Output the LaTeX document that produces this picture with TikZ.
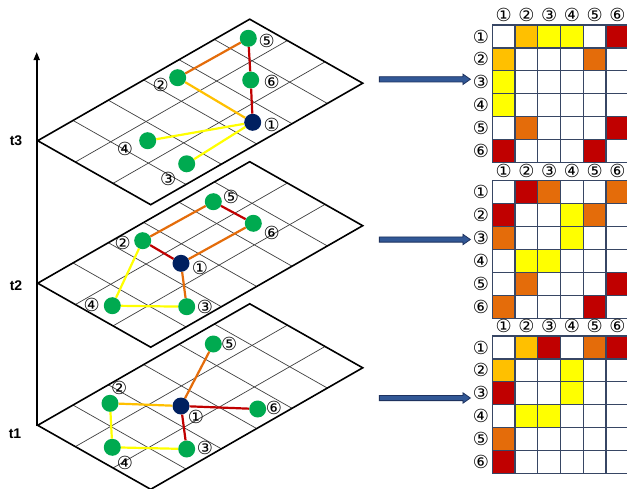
\documentclass[tikz,border=0pt]{standalone}
\usepackage{fontspec}
\setmainfont{Liberation Sans}
\newfontfamily\dejavu{DejaVu Sans}
\usetikzlibrary{arrows.meta,shapes.arrows}
\definecolor{cred}{RGB}{192,0,0}
\definecolor{corange}{RGB}{228,108,10}
\definecolor{camber}{RGB}{255,192,0}
\definecolor{cyellow}{RGB}{255,255,0}
\definecolor{cgreen}{RGB}{0,170,80}
\definecolor{cnavy}{RGB}{0,32,96}
\definecolor{cmatgrid}{RGB}{55,70,100}
\definecolor{carrowfill}{RGB}{50,88,150}
\definecolor{carrowline}{RGB}{30,50,95}
\newcommand\layerplane[1]{%
  \begin{scope}[shift={(37.7,#1)}]
    \fill[white] (0,0) -- (212,-121.5) -- (325,-57.5) -- (113,64) -- cycle;
    \foreach \i in {1,...,5} \draw[gridln] ({\i*212/6},{-\i*121.5/6}) -- ++(113,64);
    \foreach \j in {1,2} \draw[gridln] ({\j*113/3},{\j*64/3}) -- ++(212,-121.5);
    \draw[planeborder] (0,0) -- (212,-121.5) -- (325,-57.5) -- (113,64) -- cycle;
  \end{scope}}
\newcommand\adjmat[3]{%
  \foreach \r/\c/\col in {#3}
    \fill[\col] ({492.3+(\c-1)*22.75},{#2+(\r-1)*22.9}) rectangle ++(22.75,22.9);
  \foreach \k in {0,...,6} {
    \draw[matgrid] ({492.3+\k*22.75},#2) -- ++(0,137.4);
    \draw[matgrid] (492.3,{#2+\k*22.9}) -- ++(136.5,0);
  }
  \foreach \k/\s in {1/①,2/②,3/③,4/④,5/⑤,6/⑥} {
    \node[lab] (#1c\k) at ({492.3+(\k-0.5)*22.75},{#2-10}) {\s};
    \node[lab] (#1r\k) at (481,{#2+(\k-0.5)*22.9}) {\s};
  }}
\begin{document}
\begin{tikzpicture}[x=1pt,y=-1pt,
  gridln/.style={draw=black!75, line width=0.7},
  planeborder/.style={draw=black, line width=1.6, line join=miter},
  matgrid/.style={draw=cmatgrid, line width=1.2},
  gnode/.style={circle, fill=cgreen, minimum size=17, inner sep=0},
  bnode/.style={circle, fill=cnavy, minimum size=17, inner sep=0},
  lab/.style={font=\dejavu\fontsize{18}{18}\selectfont, inner sep=0},
  tlab/.style={font=\bfseries\fontsize{14}{14}\selectfont, inner sep=0},
  ered/.style={draw=cred, line width=2.2},
  eorange/.style={draw=corange, line width=2.2},
  eamber/.style={draw=camber, line width=2.2},
  eyellow/.style={draw=cyellow, line width=2.2},
  blockarrow/.style={single arrow, draw=carrowline, fill=carrowfill, line width=0.8,
    minimum height=91, inner sep=2.2, single arrow head extend=2.6, single arrow tip angle=70}]
\clip (0,0) rectangle (627,488);
\fill[white] (0,0) rectangle (627,488);

% time axis
\coordinate (axb) at (36.7,426);
\coordinate (axt) at (36.7,52);
\draw[line width=1.8, -{Triangle[length=8,width=6]}] (axb) -- (axt);
\node[tlab] (lt3) at (16,141) {t3};
\node[tlab] (lt2) at (16,286) {t2};
\node[tlab] (lt1) at (15,434) {t1};

% planes
\layerplane{140.7}
\layerplane{283.2}
\layerplane{425.3}

% ---- t3 ----
\node[gnode] (c5) at (248.3,38.3) {};
\node[gnode] (c2) at (177.7,77.7) {};
\node[gnode] (c6) at (250.7,80) {};
\node[bnode] (c1) at (252.7,122.3) {};
\node[gnode] (c4) at (147.7,140.7) {};
\node[gnode] (c3) at (186.7,163.8) {};
\draw[eorange] (c2) -- (c5);
\draw[eamber] (c2) -- (c1);
\draw[ered] (c5) -- (c6);
\draw[ered] (c6) -- (c1);
\draw[eyellow] (c1) -- (c4);
\draw[eyellow] (c1) -- (c3);
\node[lab] (lc5) at (266.7,40.7) {⑤};
\node[lab] (lc2) at (160.7,85) {②};
\node[lab] (lc6) at (271.7,82.3) {⑥};
\node[lab] (lc1) at (271.7,125) {①};
\node[lab] (lc4) at (125,149) {④};
\node[lab] (lc3) at (168.3,179) {③};

% ---- t2 ----
\node[gnode] (b5) at (213.3,201.7) {};
\node[gnode] (b6) at (253.3,223.3) {};
\node[gnode] (b2) at (142.7,240.7) {};
\node[bnode] (b1) at (181,263.3) {};
\node[gnode] (b4) at (112.3,305.7) {};
\node[gnode] (b3) at (186.7,306.7) {};
\draw[eorange] (b2) -- (b5);
\draw[ered] (b5) -- (b6);
\draw[eorange] (b6) -- (b1);
\draw[ered] (b1) -- (b2);
\draw[eyellow] (b2) -- (b4);
\draw[eyellow] (b4) -- (b3);
\draw[eorange] (b3) -- (b1);
\node[lab] (lb5) at (231,197.3) {⑤};
\node[lab] (lb6) at (271.7,232.7) {⑥};
\node[lab] (lb2) at (122.7,243.3) {②};
\node[lab] (lb1) at (200,268.3) {①};
\node[lab] (lb4) at (91.7,305) {④};
\node[lab] (lb3) at (205,306.7) {③};

% ---- t1 ----
\node[gnode] (a5) at (213.3,344) {};
\node[gnode] (a2) at (110,403.3) {};
\node[bnode] (a1) at (181,406) {};
\node[gnode] (a6) at (257.7,409) {};
\node[gnode] (a4) at (112.3,447.3) {};
\node[gnode] (a3) at (186.7,449) {};
\draw[eorange] (a1) -- (a5);
\draw[eamber] (a1) -- (a2);
\draw[ered] (a1) -- (a6);
\draw[ered] (a1) -- (a3);
\draw[eyellow] (a2) -- (a4);
\draw[eyellow] (a4) -- (a3);
\node[lab] (la5) at (229.3,344) {⑤};
\node[lab] (la2) at (119.3,388.3) {②};
\node[lab] (la1) at (196,416.7) {①};
\node[lab] (la6) at (274,408.3) {⑥};
\node[lab] (la4) at (125,463.3) {④};
\node[lab] (la3) at (205,448.3) {③};

% block arrows
\node[blockarrow] (arr3) at (423,79.3) {};
\node[blockarrow] (arr2) at (423,239.5) {};
\node[blockarrow] (arr1) at (423,398) {};

% adjacency matrices
\adjmat{mthree}{25}{1/2/camber,1/3/cyellow,1/4/cyellow,1/6/cred,2/1/camber,2/5/corange,3/1/cyellow,4/1/cyellow,5/2/corange,5/6/cred,6/1/cred,6/5/cred}
\adjmat{mtwo}{180.7}{1/2/cred,1/3/corange,1/6/corange,2/1/cred,2/4/cyellow,2/5/corange,3/1/corange,3/4/cyellow,4/2/cyellow,4/3/cyellow,5/2/corange,5/6/cred,6/1/corange,6/5/cred}
\adjmat{mone}{336}{1/2/camber,1/3/cred,1/5/corange,1/6/cred,2/1/camber,2/4/cyellow,3/1/cred,3/4/cyellow,4/2/cyellow,4/3/cyellow,5/1/corange,6/1/cred}
\end{tikzpicture}
\end{document}
